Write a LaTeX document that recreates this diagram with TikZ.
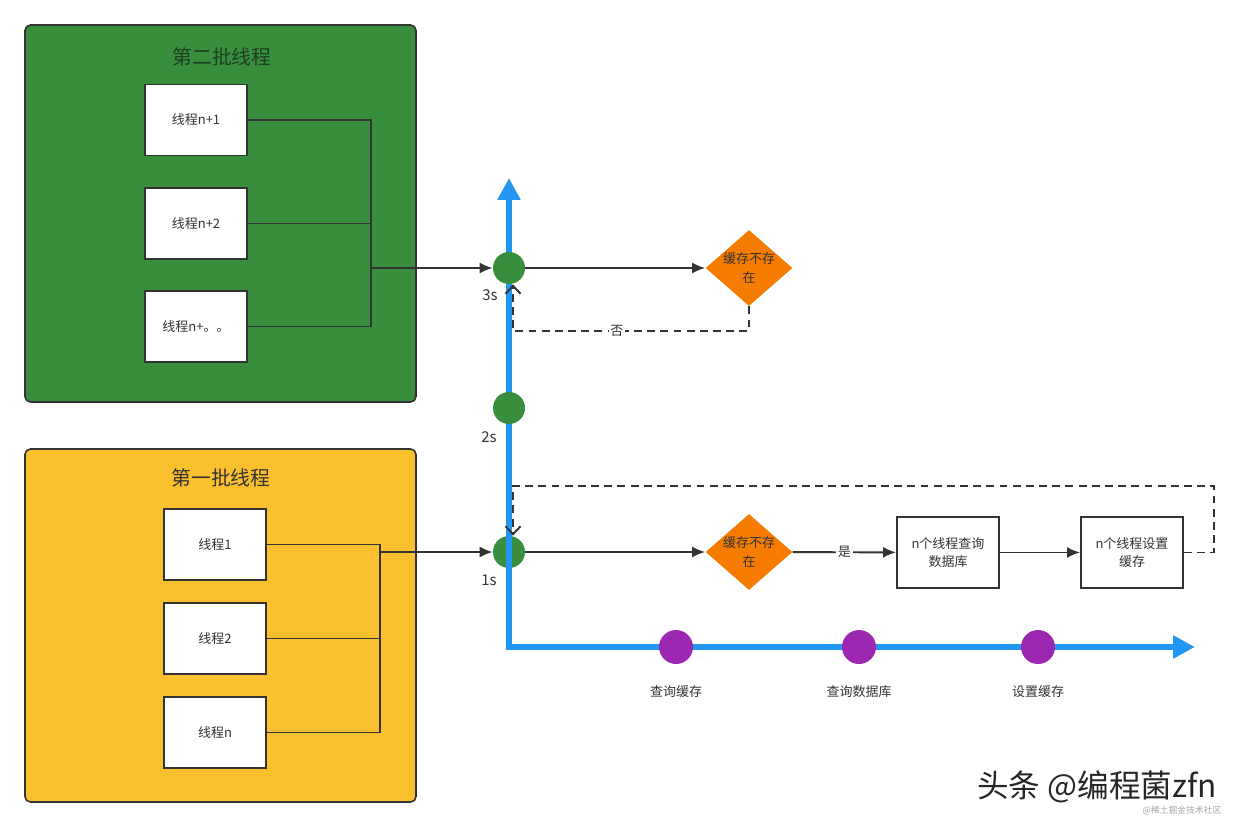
\documentclass[tikz,border=0pt]{standalone}
\usepackage{fontspec}
\setmainfont{Noto Sans CJK SC}
\usetikzlibrary{shapes.geometric,arrows.meta}
\definecolor{ink}{RGB}{51,51,51}
\definecolor{batchgreen}{RGB}{56,142,60}
\definecolor{titlegreen}{RGB}{30,62,32}
\definecolor{batchyellow}{RGB}{251,192,45}
\definecolor{axisblue}{RGB}{33,150,243}
\definecolor{checkorange}{RGB}{245,124,0}
\definecolor{stagepurple}{RGB}{156,39,176}
\tikzset{
every node/.style=
    {font=\fontsize{7.4}{10.5}\selectfont,
    text=ink,
    align=center
    },
batch/.style=
    {draw=ink,
    line width=0.9pt,
    rounded corners=3pt,
    minimum width=7.82cm,
    minimum height=7.54cm
    },
batchtitle/.style=
    {font=\fontsize{11.3}{13}\selectfont
    },
thread/.style=
    {draw=ink,
    fill=white,
    line width=1.1pt,
    minimum width=2.04cm,
    minimum height=1.42cm
    },
work/.style=
    {thread
    },
check/.style=
    {diamond,
    fill=checkorange,
    inner sep=0pt,
    aspect=1.15,
    minimum width=1.72cm,
    minimum height=1.52cm
    },
tdot/.style=
    {circle,
    fill=batchgreen,
    inner sep=0pt,
    minimum size=0.64cm
    },
qdot/.style=
    {circle,
    fill=stagepurple,
    inner sep=0pt,
    minimum size=0.68cm
    },
tick/.style=
    {font=\fontsize{8.5}{10}\selectfont
    },
axis/.style=
    {draw=axisblue,
    line width=0.12cm,
    {Triangle[length=0.44cm,width=0.44cm]}-{Triangle[length=0.44cm,width=0.44cm]}
    },
wire/.style=
    {draw=ink,
    line width=1.1pt
    },
flow/.style=
    {wire,
    -{Latex[length=0.26cm,width=0.22cm]}
    },
back/.style=
    {wire,
    dash pattern=on 4.5pt off 3pt,
    -{Straight Barb[length=0.16cm,width=0.3cm]}
    }}

\begin{document}
\begin{tikzpicture}[x=0.02cm,y=-0.02cm]
\useasboundingbox (0,0) rectangle (1240,828);

% second batch
\node[batch,fill=batchgreen] (second) at (220.5,213.5) {};
\node[batchtitle,text=titlegreen] (secondtitle) at (222,57) {第二批线程};
\node[thread] (g1) at (196,120) {线程n+1};
\node[thread] (g2) at (196,223.5) {线程n+2};
\node[thread] (g3) at (196,326.5) {线程n+。。};

% first batch
\node[batch,fill=batchyellow,minimum height=7.06cm] (first) at (220.5,625.5) {};
\node[batchtitle] (firsttitle) at (221,478) {第一批线程};
\node[thread] (y1) at (215,544.5) {线程1};
\node[thread] (y2) at (215,638.5) {线程2};
\node[thread] (yn) at (215,732.5) {线程n};

% time axis
\coordinate (o) at (509,647);
\coordinate (ytip) at (509,178);
\coordinate (xtip) at (1195,647);
\node[tdot] (t1) at (509,552) {};
\draw[axis] (ytip) -- (o) -- (xtip);
\node[tdot] (t2) at (509,408) {};
\node[tdot] (t3) at (509,268) {};
\node[tick] (l3) at (490,295) {3s};
\node[tick] (l2) at (489,437) {2s};
\node[tick] (l1) at (489,580) {1s};

\node[qdot] (p1) at (676,647) {};
\node[qdot] (p2) at (859,647) {};
\node[qdot] (p3) at (1038,647) {};
\node (pl1) at (676,692) {查询缓存};
\node (pl2) at (859,692) {查询数据库};
\node (pl3) at (1038,692) {设置缓存};

% checks and work
\node[check] (c3) at (749,268) {缓存不存\\在};
\node[check] (c1) at (749,552) {缓存不存\\在};
\node[work] (query) at (948,552.5) {n个线程查询\\数据库};
\node[work] (set) at (1132,552.5) {n个线程设置\\缓存};

% brackets
\coordinate (gj) at (371,268);
\coordinate (yj) at (380,552);
\draw[wire] (g1.east) -| (gj);
\draw[wire] (g3.east) -| (gj);
\draw[wire] (g2.east) -- (g2.east -| gj);
\draw[wire] (y1.east) -| (yj);
\draw[wire] (yn.east) -| (yj);
\draw[wire] (y2.east) -- (y2.east -| yj);

\draw[flow] (gj) -- (t3);
\draw[flow] (t3) -- (c3);
\draw[flow] (yj) -- (t1);
\draw[flow] (t1) -- (c1);
\draw[flow] (c1) -- node[fill=white,inner sep=1pt] {是} (query);
\draw[flow] (query) -- (set);

\coordinate (n3) at (513,331);
\draw[back] (c3.south) |- (n3) node[pos=0.78,fill=white,inner sep=1pt] {否} -- (n3 |- t3.south);
\coordinate (r1) at (1214,486);
\coordinate (n1) at (513,486);
\draw[back] (set.east) -| (r1) -- (n1) -- (n1 |- t1.north);

% watermark
\node[font=\fontsize{18}{20}\selectfont,text=black!85] (brand) at (1097,787) {头条 @编程菌zfn};
\node[font=\fontsize{5}{6}\selectfont,text=black!35] (site) at (1182,811) {@稀土掘金技术社区};
\end{tikzpicture}
\end{document}
